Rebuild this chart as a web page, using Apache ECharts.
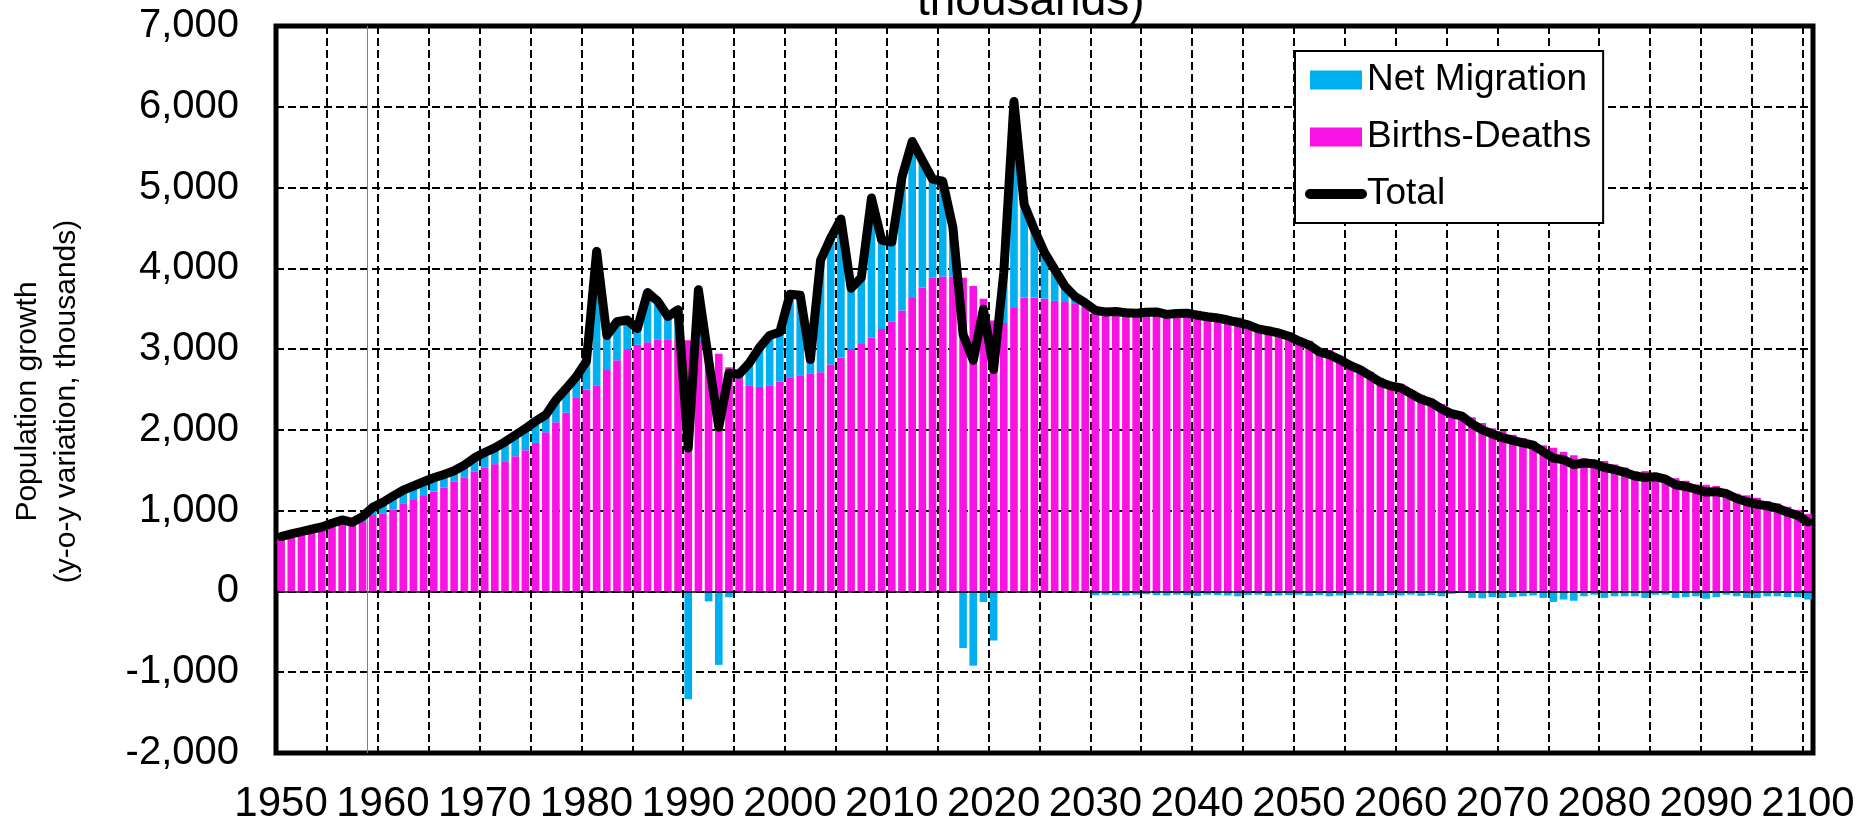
<!DOCTYPE html>
<html><head><meta charset="utf-8">
<script src="https://cdn.jsdelivr.net/npm/echarts@6/dist/echarts.min.js"></script>
<style>html,body{margin:0;padding:0;background:#fff}#c{width:1869px;height:825px}</style>
</head><body><div id="c"></div>
<script>
const years = [];
for (let y = 1950; y <= 2100; y++) years.push(String(y));

const birthsDeaths = [
  650, 680, 705, 730, 760, 800, 840, 815, 870, 946,
  967, 1016, 1091, 1132, 1181, 1235, 1288, 1358, 1407, 1481,
  1531, 1576, 1613, 1675, 1749, 1840, 1970, 2095, 2213, 2404,
  2498, 2553, 2740, 2863, 2991, 3054, 3084, 3118, 3114, 3115,
  3110, 3100, 2990, 2944, 2774, 2638, 2553, 2532, 2553, 2596,
  2651, 2676, 2702, 2715, 2809, 2897, 3001, 3063, 3141, 3250,
  3338, 3479, 3634, 3764, 3884, 3899, 3899, 3884, 3780, 3624,
  3354, 3323, 3510, 3640, 3640, 3624, 3598, 3582, 3557, 3520,
  3527, 3500, 3510, 3500, 3485, 3490, 3505, 3480, 3480, 3490,
  3475, 3440, 3430, 3410, 3390, 3345, 3290, 3280, 3250, 3205,
  3140, 3105, 3010, 2990, 2920, 2845, 2785, 2720, 2645, 2590,
  2570, 2490, 2435, 2385, 2320, 2230, 2190, 2155, 2085, 2020,
  1985, 1940, 1900, 1860, 1810, 1780, 1730, 1685, 1650, 1620,
  1615, 1570, 1535, 1490, 1490, 1460, 1430, 1400, 1370, 1325,
  1320, 1305, 1250, 1210, 1190, 1160, 1120, 1090, 1050, 1010, 960
];
const netMigration = [
  30, 32, 36, 40, 38, 44, 45, 41, 56, 95,
  136, 165, 164, 173, 177, 172, 161, 136, 157, 173,
  189, 202, 239, 259, 267, 267, 215, 275, 298, 255,
  352, 1657, 429, 476, 369, 200, 616, 476, 289, 373,
  -1334, 634, -123, -909, -72, 51, 276, 488, 616, 616,
  1028, 990, 170, 1385, 1568, 1713, 753, 821, 1729, 1101,
  987, 1651, 1937, 1573, 1220, 1179, 608, -701, -919, -130,
  -607, 627, 2554, 1152, 841, 571, 389, 198, 93, 52,
  -47, -40, -45, -50, -40, -35, -45, -50, -40, -45,
  -55, -40, -45, -50, -60, -45, -40, -55, -50, -45,
  -40, -55, -45, -60, -50, -45, -40, -50, -55, -45,
  -50, -40, -55, -45, -60, -30, -20, -80, -85, -70,
  -80, -70, -60, -50, -80, -130, -100, -115, -60, -40,
  -80, -60, -60, -60, -80, -40, -40, -80, -70, -60,
  -90, -70, -40, -60, -80, -80, -60, -60, -70, -70, -100
];
const total = [
  680, 712, 741, 770, 798, 844, 885, 856, 926, 1041,
  1103, 1181, 1255, 1305, 1358, 1407, 1449, 1494, 1564, 1654,
  1720, 1778, 1852, 1934, 2016, 2107, 2185, 2370, 2511, 2659,
  2850, 4210, 3169, 3339, 3360, 3254, 3700, 3594, 3403, 3488,
  1776, 3734, 2867, 2035, 2702, 2689, 2829, 3020, 3169, 3212,
  3679, 3666, 2872, 4100, 4377, 4610, 3754, 3884, 4870, 4351,
  4325, 5130, 5571, 5337, 5104, 5078, 4507, 3183, 2861, 3494,
  2747, 3950, 6064, 4792, 4481, 4195, 3987, 3780, 3650, 3572,
  3480, 3460, 3465, 3450, 3445, 3455, 3460, 3430, 3440, 3445,
  3420, 3400, 3385, 3360, 3330, 3300, 3250, 3225, 3200, 3160,
  3100, 3050, 2965, 2930, 2870, 2800, 2745, 2670, 2590, 2545,
  2520, 2450, 2380, 2340, 2260, 2200, 2170, 2075, 2000, 1950,
  1905, 1870, 1840, 1810, 1730, 1650, 1630, 1570, 1590, 1580,
  1535, 1510, 1475, 1430, 1410, 1420, 1390, 1320, 1300, 1265,
  1230, 1235, 1210, 1150, 1110, 1080, 1060, 1030, 980, 940, 860
];
const yMin = -2000, yMax = 7000, yStep = 1000;
const titleText = 'thousands)';
const yName = 'Population growth\n(y-o-y variation, thousands)';

const FONT = '"Liberation Sans", Arial, sans-serif';
const MAG = '#F812E4';
const CYAN = '#00B0F0';
const dash = { color: '#000', type: [8, 4], width: 2 };

const chart = echarts.init(document.getElementById('c'), null, { renderer: 'canvas' });
chart.setOption({
  animation: false,
  backgroundColor: '#fff',
  title: {
    text: titleText, left: 912, top: -26,
    textStyle: { fontFamily: FONT, fontSize: 46, fontWeight: 'normal', color: '#000' }
  },
  grid: { left: 276, right: 56, top: 26, bottom: 69, show: true, borderColor: '#000', borderWidth: 5, backgroundColor: 'transparent' },
  legend: {
    orient: 'vertical', left: 1295, top: 51, padding: [9, 12, 9, 10],
    borderColor: '#000', borderWidth: 2, backgroundColor: '#fff',
    itemWidth: 52, itemHeight: 19, itemGap: 17, selectedMode: false,
    textStyle: { fontFamily: FONT, fontSize: 37, color: '#000', lineHeight: 40 },
    data: [
      { name: 'Net Migration', icon: 'rect' },
      { name: 'Births-Deaths', icon: 'rect' },
      { name: 'Total', lineStyle: { width: 10, color: '#000', cap: 'round' }, itemStyle: { opacity: 0 } }
    ]
  },
  xAxis: [{
    type: 'category', data: years, boundaryGap: true,
    axisLine: { show: false, onZero: false }, axisTick: { show: false },
    axisLabel: { interval: 9, fontFamily: FONT, fontSize: 42, color: '#000', margin: 30 },
    splitLine: { show: true, interval: 4, lineStyle: dash }
  }, {
    type: 'value', min: 0, max: years.length, show: false
  }],
  yAxis: {
    type: 'value', min: yMin, max: yMax, interval: yStep,
    axisLine: { show: false }, axisTick: { show: false },
    axisLabel: { formatter: v => v.toLocaleString('en-US'), fontFamily: FONT, fontSize: 40, color: '#000', margin: 37 },
    splitLine: { show: true, lineStyle: dash },
    name: yName, nameLocation: 'middle', nameGap: 190, nameRotate: 90,
    nameTextStyle: { fontFamily: FONT, fontSize: 30, color: '#000', lineHeight: 39, padding: [0, 24, 0, 0] }
  },
  series: [
    {
      name: 'Births-Deaths', type: 'bar', stack: 'g', data: birthsDeaths,
      itemStyle: { color: MAG }, barWidth: '75%',
      markLine: { silent: true, symbol: 'none', label: { show: false },
        lineStyle: { color: '#000', type: 'solid', width: 1.5 }, data: [{ yAxis: 0 }] }
    },
    {
      name: 'Net Migration', type: 'bar', stack: 'g', data: netMigration,
      itemStyle: { color: CYAN }, barWidth: '75%'
    },
    {
      name: 'Total', type: 'line', data: total, symbol: 'none', showSymbol: false, z: 5,
      lineStyle: { color: '#000', width: 9, cap: 'round', join: 'round' },
      itemStyle: { color: '#000' }
    },
    {
      type: 'line', xAxisIndex: 1, data: [], silent: true,
      markLine: { silent: true, symbol: 'none', label: { show: false },
        lineStyle: { color: '#808080', type: 'solid', width: 1 }, data: [{ xAxis: 9 }] }
    }
  ]
});
</script>
</body></html>
